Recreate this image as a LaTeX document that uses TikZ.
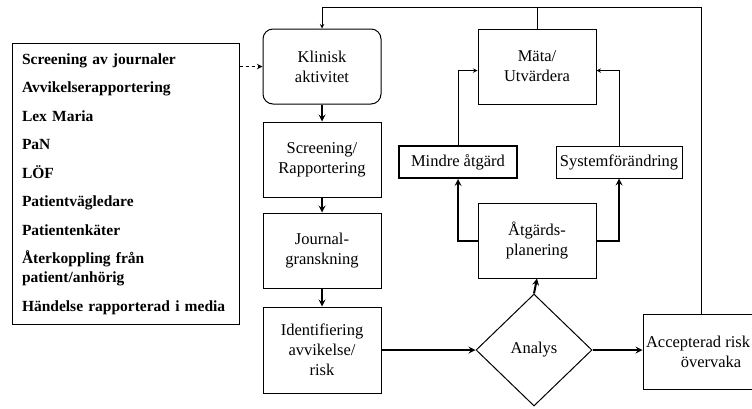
\documentclass[tikz,border=0pt]{standalone}
\usepackage{fontspec}
\setmainfont{Liberation Serif}
\usetikzlibrary{shapes.geometric, arrows}
\tikzstyle{arrow} = [->,>=stealth]
\tikzstyle{box} = [draw, line width=1pt, minimum width=118pt, minimum height=75pt, align=center, inner sep=2pt, font=\fontsize{16.5}{20}\selectfont]
\tikzstyle{smallbox} = [box, minimum height=32pt]
\tikzstyle{kallbox} = [draw, line width=1pt, text width=207pt, inner sep=10pt, minimum height=280pt, align=left, font=\fontsize{15.5}{19}\selectfont\bfseries]
\tikzstyle{thin} = [arrow, line width=1pt]
\tikzstyle{thick} = [arrow, line width=2pt]

\begin{document}
\begin{tikzpicture}[x=1pt,y=-1pt]
      \useasboundingbox (0,0) rectangle (752,408);
      \clip (0,0) rectangle (752,408);
      \node[kallbox] (kallor) at (125.5,184) {Screening av journaler\\[9.5pt]
        Avvikelserapportering\\[9.5pt] Lex Maria\\[9.5pt] PaN\\[9.5pt] LÖF\\[9.5pt]
        Patientvägledare\\[9.5pt] Patientenkäter\\[9.5pt] Återkoppling från\\
        patient/anhörig\\[9.5pt] Händelse rapporterad i media};
      \node[box,rounded corners=10pt] (klinisk) at (322,66.5) {Klinisk\\aktivitet};
      \node[box] (screening) at (322,159.5) {Screening/\\Rapportering};
      \node[box] (journal) at (322,250.5) {Journal-\\granskning};
      \node[box,minimum height=86pt] (ident) at (322,350) {Identifiering\\avvikelse/\\risk};
      \node[box] (mata) at (537,66.5) {Mäta/\\Utvärdera};
      \node[smallbox,line width=2pt] (mindre) at (458,162) {Mindre åtgärd};
      \node[smallbox,minimum width=126pt] (system) at (619,162) {Systemförändring};
      \node[box] (atgard) at (537,240.5) {Åtgärds-\\planering};
      \node[box,diamond,minimum width=116pt,minimum height=112pt,inner sep=0pt] (analys) at (534,350) {Analys};
      \node[box,minimum width=136pt] (accept) at (711,351.5) {\hspace*{-26pt}Accepterad risk\\övervaka};
      \coordinate (loop) at (701,7);
      %\draw(0,0)rectangle(752,408);
      \draw[arrow,line width=1.5pt,dashed](kallor.east|-klinisk.west)--(klinisk.west);
      \draw[thin](accept.north-|loop)--(loop)-|(klinisk.north);
      \draw[line width=1pt](mata.north)--(mata.north|-loop);
      \draw[thick](klinisk)--(screening);
      \draw[thick](screening)--(journal);
      \draw[thick](journal)--(ident);
      \draw[thick](ident.east)--(analys.west);
      \draw[thick](analys.east)--(analys.east-|accept.west);
      \draw[thick](analys.north)--(atgard.south);
      \draw[thick](atgard.west)-|(mindre.south);
      \draw[thick](atgard.east)-|(system.south);
      \draw[thin](mindre.north)|-([yshift=-4pt]mata.west);
      \draw[thin](system.north)|-([yshift=-4pt]mata.east);
    \end{tikzpicture}
\end{document}
